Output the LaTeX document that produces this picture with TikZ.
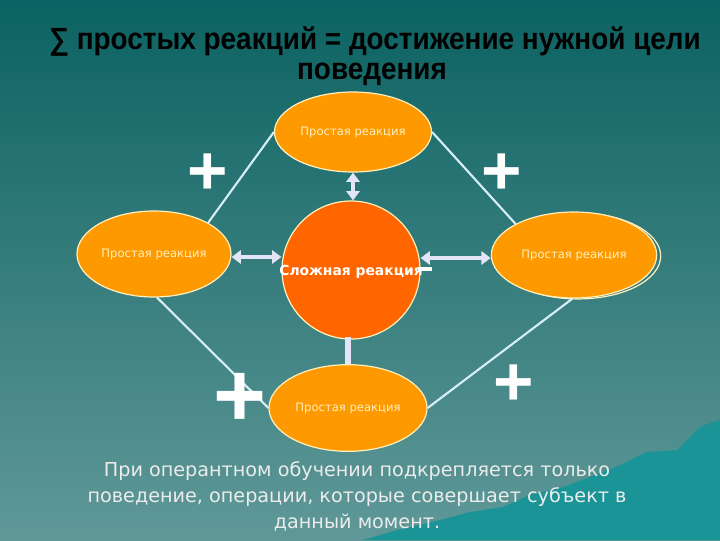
\documentclass[tikz,border=0pt]{standalone}
\usepackage{fontspec}
\setmainfont{DejaVu Sans}
\newfontfamily\titlefont[FakeStretch=0.91]{Liberation Sans}
\newfontfamily\signfont{Liberation Sans}
\usepackage{tikz}
\usetikzlibrary{arrows.meta,positioning,calc,shapes.geometric}

\definecolor{bgtop}{RGB}{12,98,98}
\definecolor{bgbot}{RGB}{96,152,152}
\definecolor{hill}{RGB}{26,148,150}
\definecolor{simple}{RGB}{255,153,0}
\definecolor{complex}{RGB}{255,102,0}
\definecolor{rim}{RGB}{255,240,190}
\definecolor{wire}{RGB}{214,238,246}
\definecolor{link}{RGB}{228,228,248}
\definecolor{lettext}{RGB}{236,236,236}

\tikzset{
  simplenode/.style={ellipse, draw=rim, line width=0.9pt, fill=simple, inner sep=0pt,
    text=rim, font=\fontsize{8.7}{10}\selectfont},
  complexnode/.style={circle, draw=rim, line width=0.9pt, fill=complex, inner sep=0pt,
    minimum size=103.5pt},
  plussign/.style={text=white, inner sep=0pt, font=\signfont\bfseries\fontsize{52}{52}\selectfont},
  wireline/.style={wire, line width=1.6pt},
  twoway/.style={link, line width=3.6pt, {Triangle[length=7pt,width=10pt]}-{Triangle[length=7pt,width=10pt]}},
}

\begin{document}
\begin{tikzpicture}[x=0.75pt,y=-0.75pt]
	\useasboundingbox (0,0) rectangle (720,540);
	\shade [top color=bgtop, bottom color=bgbot] (0,0) rectangle (720,540);
	% hills in the corner
	\fill [hill] (363,540) -- (397,530) -- (440,520) -- (470,512) -- (503,507) -- (530,495) -- (563,487)
		-- (590,477) -- (620,465) -- (647,452) -- (677,450) -- (690,437) -- (700,427) -- (713,422)
		-- (720,420) -- (720,540) -- cycle;

	% title
	\node (title1) at (375,41) {\titlefont\bfseries\fontsize{23}{26}\selectfont ∑ простых реакций = достижение нужной цели};
	\node (title2) at (372,74) {\titlefont\bfseries\fontsize{23}{26}\selectfont поведения};

	% reactions
	\draw [rim, line width=0.9pt] (578,256) ellipse (62pt and 32.2pt);
	\node [simplenode, minimum width=117.75pt, minimum height=60pt] (top) at (353,132) {Простая реакция};
	\node [simplenode, minimum width=115.5pt, minimum height=64.5pt] (left) at (154,254) {Простая реакция};
	\node [simplenode, minimum width=124pt, minimum height=64.5pt] (right) at (574,255) {Простая реакция};
	\node [simplenode, minimum width=118.5pt, minimum height=65pt] (bottom) at (348,408) {Простая реакция};
	\node [complexnode] (centre) at (351,270) {};
	\node [text=white, font=\bfseries\fontsize{10.4}{12}\selectfont] (centretext) at (351,272) {Сложная реакция};

	% outer lines
	\draw [wireline] (top.west) -- (left.30);
	\draw [wireline] (top.east) -- (right.152);
	\draw [wireline] (left.-86) -- (bottom.west);
	\draw [wireline] (right.-92) -- (bottom.east);

	% links to the complex reaction
	\draw [twoway] (top.south) -- (top.south |- centre.north);
	\coordinate (lefty) at ($(left.east)+(0,3)$);
	\coordinate (righty) at ($(right.west)+(0,3)$);
	\draw [twoway] (lefty) -- (lefty -| centre.west);
	\draw [twoway] (righty) -- (righty -| centre.east);
	\draw [link, line width=5.2pt] ($(centre.south)+(-3,-3)$) -- (bottom.north |- 0,364);
	\node [fill=white, inner sep=0pt, minimum width=10.5pt, minimum height=3pt] (minus) at (425,269) {};

	% signs
	\node [plussign] (plus1) at (208,174) {+};
	\node [plussign] (plus2) at (502,174) {+};
	\node [plussign, font=\signfont\bfseries\fontsize{68}{68}\selectfont] (plus3) at (240,400) {+};
	\node [plussign] (plus4) at (514,385) {+};

	% note
	\node [text=lettext, align=center, font=\fontsize{14.4}{19.5}\selectfont] (note) at (357,496)
		{При оперантном обучении подкрепляется только\\поведение, операции, которые совершает субъект в\\данный момент.};
\end{tikzpicture}
\end{document}
